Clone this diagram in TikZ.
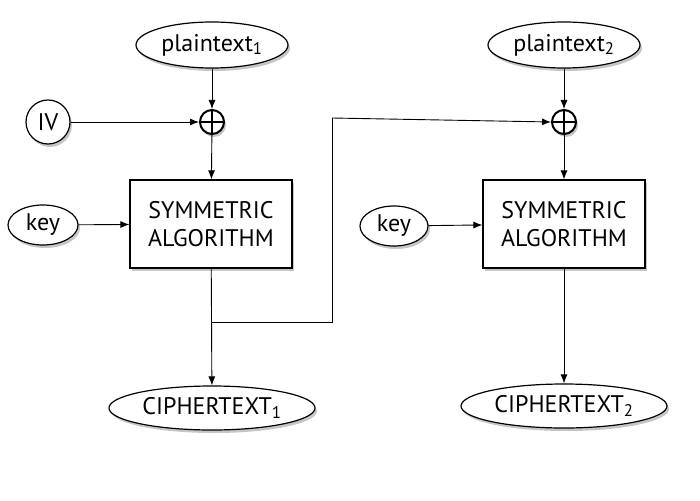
\documentclass[tikz,border=0pt]{standalone}
\usepackage{fontspec}
\setmainfont{PT Sans}
\usetikzlibrary{shapes.geometric,shadows,arrows.meta}
\begin{document}
\begin{tikzpicture}[x=1pt,y=-1pt,line width=0.9pt,
    font=\fontsize{24}{28}\selectfont,
    >={Latex[length=9pt,width=7pt]},
    shade/.style={drop shadow={shadow xshift=2pt,shadow yshift=-3pt,opacity=0.45}},
    textbox/.style={ellipse,draw,line width=1.2pt,fill=white,shade,inner sep=0pt},
    algobox/.style={rectangle,draw,line width=1.2pt,fill=white,shade,minimum width=162pt,minimum height=88pt,align=center,inner sep=2pt},
    xorop/.style={circle,draw,line width=2pt,fill=white,shade,minimum size=24pt,inner sep=0pt,
      path picture={\draw[line width=1.6pt] (path picture bounding box.north) -- (path picture bounding box.south)
        (path picture bounding box.west) -- (path picture bounding box.east);}}]
  \useasboundingbox (0,0) rectangle (700,500);

  \node[textbox,minimum width=152pt,minimum height=46pt] (plain1) at (212,45) {plaintext\textsubscript{1}};
  \node[xorop] (xor1) at (212,122) {};
  \node[textbox,circle,minimum size=44pt] (iv) at (48,122) {IV};
  \node[algobox] (algo1) at (211,224) {SYMMETRIC\\ALGORITHM};
  \node[textbox,minimum width=70pt,minimum height=40pt] (key1) at (43,225) {key};
  \node[textbox,minimum width=206pt,minimum height=44pt] (cipher1) at (212,408) {CIPHERTEXT\textsubscript{1}};

  \node[textbox,minimum width=152pt,minimum height=46pt] (plain2) at (564,45) {plaintext\textsubscript{2}};
  \node[xorop] (xor2) at (564,122) {};
  \node[algobox] (algo2) at (564,224) {SYMMETRIC\\ALGORITHM};
  \node[textbox,minimum width=68pt,minimum height=40pt] (key2) at (394,226) {key};
  \node[textbox,minimum width=206pt,minimum height=44pt] (cipher2) at (564,406) {CIPHERTEXT\textsubscript{2}};

  \coordinate (split) at (212,322);
  \coordinate (bend1) at (332,322);
  \coordinate (bend2) at (332,118);

  \draw[->] (plain1) -- (xor1);
  \draw[->] (iv) -- (xor1);
  \draw[->] (xor1) -- (algo1);
  \draw[->] (key1) -- (algo1);
  \draw[->] (algo1) -- (cipher1);
  \draw (split) -- (bend1) -- (bend2);
  \draw[->] (bend2) -- (xor2.west);

  \draw[->] (plain2) -- (xor2);
  \draw[->] (xor2) -- (algo2);
  \draw[->] (key2) -- (algo2);
  \draw[->] (algo2) -- (cipher2);
\end{tikzpicture}
\end{document}
